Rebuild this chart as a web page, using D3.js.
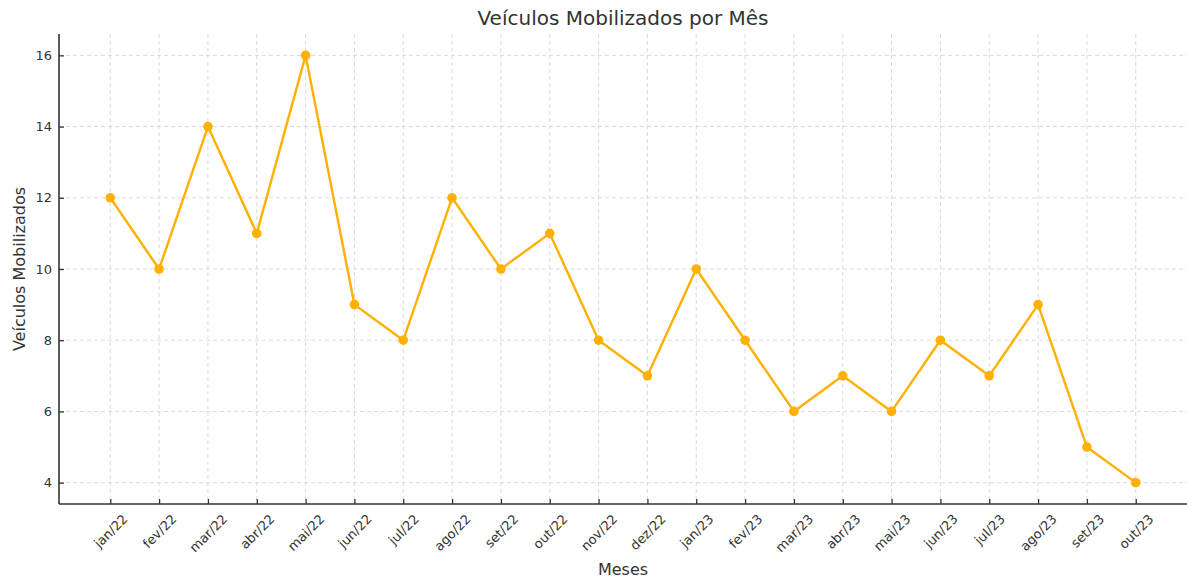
<!DOCTYPE html>
<html><head><meta charset="utf-8">
<script src="https://cdn.jsdelivr.net/npm/d3@7"></script>
<style>body{margin:0;background:#fff}svg{display:block}text{font-family:"DejaVu Sans",sans-serif;fill:#333}</style>
</head><body><svg id="c" width="1187" height="578"></svg>
<script>
const months = ["jan/22","fev/22","mar/22","abr/22","mai/22","jun/22","jul/22","ago/22","set/22","out/22","nov/22","dez/22","jan/23","fev/23","mar/23","abr/23","mai/23","jun/23","jul/23","ago/23","set/23","out/23"];
const vehicles = [12,10,14,11,16,9,8,12,10,11,8,7,10,8,6,7,6,8,7,9,5,4];
const yTicks = [4,6,8,10,12,14,16];

const svg = d3.select("#c");
const L = 59, R = 1187, T = 34, B = 504;
const x = d3.scaleLinear().domain([-1.05, months.length - 1 + 1.05]).range([L, R]);
const y = d3.scaleLinear().domain([3.4, 16.6]).range([B, T]);

// grid
svg.append("g").selectAll("line").data(months).join("line")
  .attr("x1", (d,i)=>x(i)).attr("x2",(d,i)=>x(i)).attr("y1",T).attr("y2",B)
  .attr("stroke","#d0d0d0").attr("stroke-width",0.8).attr("stroke-dasharray","4,3");
svg.append("g").selectAll("line").data(yTicks).join("line")
  .attr("x1", L).attr("x2", R).attr("y1", d=>y(d)).attr("y2", d=>y(d))
  .attr("stroke","#d0d0d0").attr("stroke-width",0.8).attr("stroke-dasharray","4,3");

// axes (ticks point inward)
const yAxis = svg.append("g").attr("transform",`translate(${L},0)`)
  .call(d3.axisLeft(y).tickValues(yTicks).tickSize(-5).tickPadding(0));
yAxis.select(".domain").remove();
yAxis.selectAll("line").attr("stroke","#333").attr("stroke-width",1.3);
yAxis.selectAll("text").attr("font-size",13).attr("fill","#333").style("font-family","DejaVu Sans").attr("x",-7);

const xAxis = svg.append("g").attr("transform",`translate(0,${B})`)
  .call(d3.axisBottom(x).tickValues(d3.range(months.length)).tickFormat(i=>months[i]).tickSize(-5));
xAxis.select(".domain").remove();
xAxis.selectAll("line").attr("stroke","#333").attr("stroke-width",1.3);
xAxis.selectAll("text").attr("font-size",13).attr("fill","#333").style("font-family","DejaVu Sans")
  .attr("dy",null).attr("y",0)
  .each(function(){
    const t = d3.select(this);
    const w = this.getComputedTextLength();
    const h = 13;
    const bh = (w + h) * Math.SQRT1_2;
    t.attr("text-anchor","middle").attr("dominant-baseline","central")
     .attr("transform",`translate(0,${8 + bh/2}) rotate(-45)`);
  });

// spines
svg.append("line").attr("x1",L).attr("x2",L).attr("y1",T).attr("y2",B).attr("stroke","#333").attr("stroke-width",1.6);
svg.append("line").attr("x1",L).attr("x2",R).attr("y1",B).attr("y2",B).attr("stroke","#333").attr("stroke-width",1.6);

// line
const color = "#ffb000";
svg.append("path").datum(vehicles)
  .attr("d", d3.line().x((d,i)=>x(i)).y(d=>y(d)))
  .attr("fill","none").attr("stroke",color).attr("stroke-width",2.4).attr("stroke-linejoin","round");
svg.append("g").selectAll("circle").data(vehicles).join("circle")
  .attr("cx",(d,i)=>x(i)).attr("cy",d=>y(d)).attr("r",4.8).attr("fill",color);

// labels
svg.append("text").attr("x",(L+R)/2).attr("y",25).attr("text-anchor","middle").attr("font-size",20).text("Veículos Mobilizados por Mês");
svg.append("text").attr("x",(L+R)/2).attr("y",575).attr("text-anchor","middle").attr("font-size",16).text("Meses");
svg.append("text").attr("transform",`translate(25,${(T+B)/2}) rotate(-90)`).attr("text-anchor","middle").attr("font-size",16).text("Veículos Mobilizados");
</script></body></html>
